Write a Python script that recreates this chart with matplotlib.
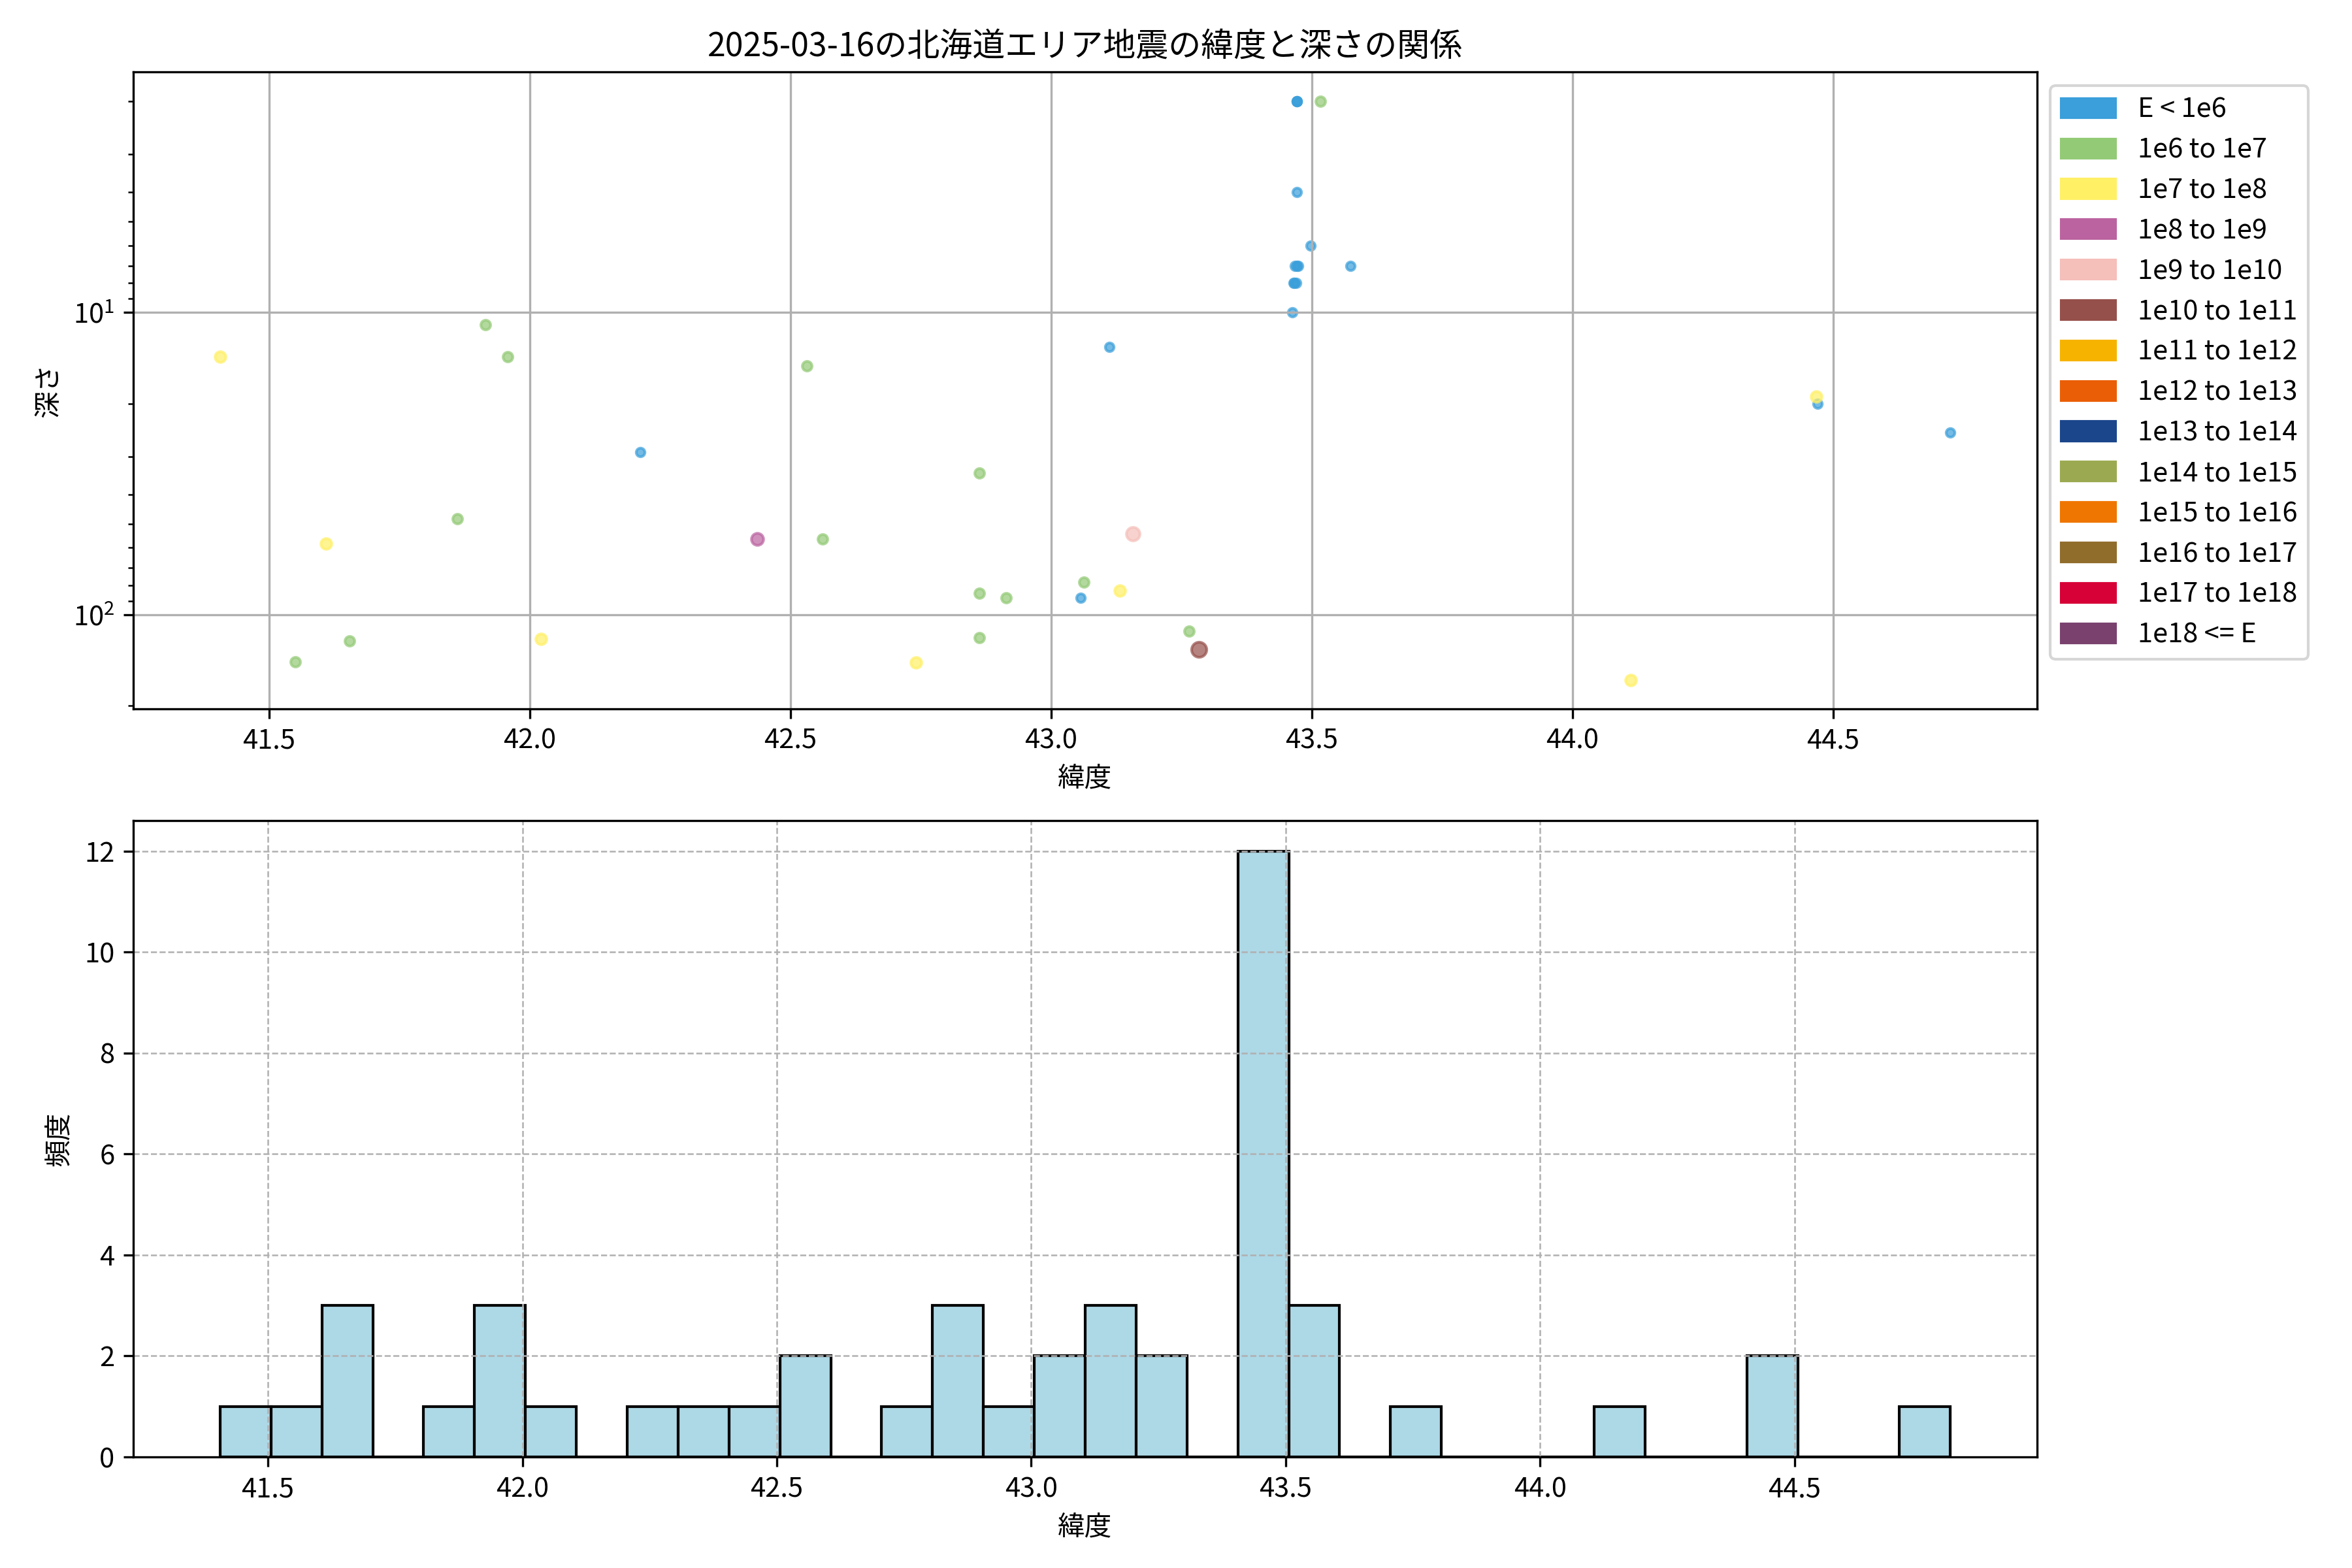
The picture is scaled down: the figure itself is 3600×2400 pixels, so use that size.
import numpy as np
import matplotlib
matplotlib.use("Agg")
import matplotlib.pyplot as plt
from matplotlib.patches import Patch

plt.rcParams['font.family'] = ['Noto Sans CJK JP', 'DejaVu Sans']

# ---- data ----
class_labels = ["E < 1e6", "1e6 to 1e7", "1e7 to 1e8", "1e8 to 1e9", "1e9 to 1e10",
                "1e10 to 1e11", "1e11 to 1e12", "1e12 to 1e13", "1e13 to 1e14",
                "1e14 to 1e15", "1e15 to 1e16", "1e16 to 1e17", "1e17 to 1e18", "1e18 <= E"]
class_colors = ["#3A9FDA", "#93CA76", "#FFF066", "#BB63A0", "#F5BFBA",
                "#96504B", "#F6B400", "#EA5F05", "#1B468C",
                "#9BAA50", "#EF7600", "#916D2C", "#D70037", "#7A416E"]

latitude = [41.406, 41.915, 41.958, 42.531, 42.212, 42.863, 41.861, 42.436, 42.562, 41.609,
            42.862, 42.914, 43.057, 41.550, 41.654, 42.021, 42.741, 42.862,
            43.472, 43.472, 43.472, 43.516, 43.472, 43.498,
            43.468, 43.474, 43.471, 43.574, 43.465, 43.470, 43.467, 43.463,
            43.112, 44.468, 44.470, 44.725, 43.157, 43.063, 43.132, 43.265, 43.284, 44.112,
            41.680, 41.950, 42.350, 43.550, 43.750]
depth = [14.0, 11.0, 14.0, 15.0, 29.0, 34.0, 48.0, 56.0, 56.0, 58.0,
         85.0, 88.0, 88.0, 143.0, 122.0, 120.0, 144.0, 119.0,
         2.0, 2.0, 2.0, 2.0, 4.0, 6.0,
         7.0, 7.0, 7.0, 7.0, 8.0, 8.0, 8.0, 10.0,
         13.0, 19.0, 20.0, 25.0, 54.0, 78.0, 83.0, 113.0, 130.0, 164.0,
         np.nan, np.nan, np.nan, np.nan, np.nan]
energy_class = [2, 1, 1, 1, 0, 1, 1, 3, 1, 2,
                1, 1, 0, 1, 1, 2, 2, 1,
                0, 0, 0, 1, 0, 0,
                0, 0, 0, 0, 0, 0, 0, 0,
                0, 2, 0, 0, 4, 1, 2, 1, 5, 2,
                0, 1, 1, 0, 0]

lat = np.array(latitude)
dep = np.array(depth)
cls = np.array(energy_class)

fig = plt.figure(figsize=(12, 8), dpi=300)
ax1 = fig.add_axes([0.0568, 0.548, 0.8092, 0.406])
ax2 = fig.add_axes([0.0568, 0.0708, 0.8092, 0.4058])

# ---- scatter ----
for i, (lab, col) in enumerate(zip(class_labels, class_colors)):
    m = cls == i
    if m.any():
        ax1.scatter(lat[m], dep[m], color=col, s=10 * 1.25 ** i, alpha=0.7,
                    linewidths=1.0, label=lab)
ax1.set_yscale('log')
ax1.invert_yaxis()
ax1.grid(True)
ax1.set_title("2025-03-16の北海道エリア地震の緯度と深さの関係")
ax1.set_xlabel("緯度")
ax1.set_ylabel("深さ")
handles = [Patch(color=c, label=l) for l, c in zip(class_labels, class_colors)]
ax1.legend(handles=handles, loc='upper left', bbox_to_anchor=(1.0, 1.0))

# ---- histogram ----
bins = np.arange(lat.min(), lat.max() + 0.1, 0.1)
ax2.hist(lat, bins=bins, color='lightblue', edgecolor='black')
ax2.grid(True, linestyle='--', linewidth=0.6)
ax2.set_xlabel("緯度")
ax2.set_ylabel("頻度")

fig.savefig("out.png", dpi=300)
